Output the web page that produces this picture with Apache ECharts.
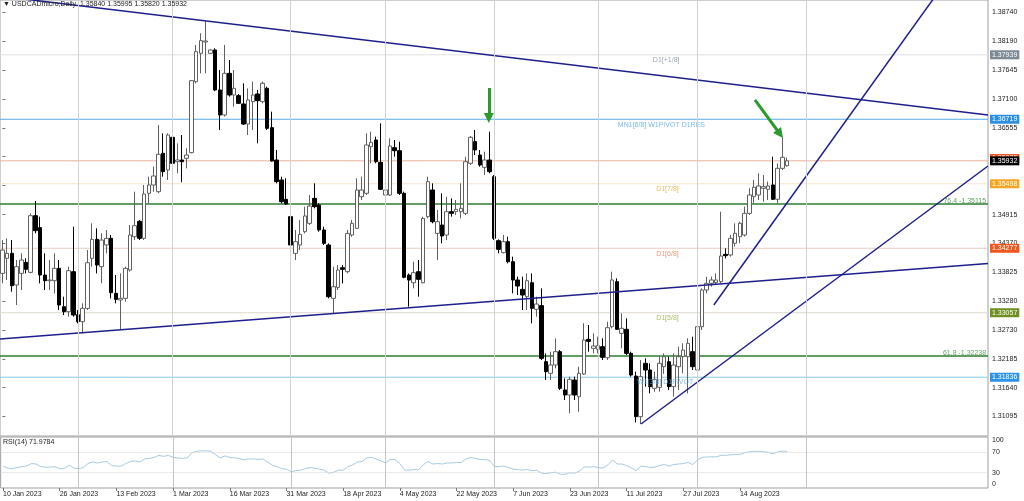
<!DOCTYPE html>
<html><head><meta charset="utf-8">
<script src="https://cdn.jsdelivr.net/npm/echarts@6/dist/echarts.min.js"></script>
<style>html,body{margin:0;padding:0;background:#fff}#c{width:1024px;height:501px}</style>
</head><body><div id="c"></div>
<script>
// ---------------- data ----------------
const symbolName = 'USDCADmicro,Daily';
const firstDay = '2023-01-10';
const slotCount = 209;                       // bars + empty future slots on the time axis
const extraSundays = ['2023-03-12', '2023-03-19'];
const dateTickLabels = ['10 Jan 2023','26 Jan 2023','13 Feb 2023','1 Mar 2023','16 Mar 2023','31 Mar 2023','18 Apr 2023','4 May 2023','22 May 2023','7 Jun 2023','23 Jun 2023','11 Jul 2023','27 Jul 2023','14 Aug 2023'];
const separatorDates = ['1 Feb 2023','1 Mar 2023','3 Apr 2023','1 May 2023','1 Jun 2023','3 Jul 2023','1 Aug 2023','1 Sep 2023'];

const opens = [1.33802,1.34086,1.34181,1.33582,1.33802,1.34011,1.33821,1.34894,1.34667,1.33771,
1.33664,1.33664,1.33897,1.33171,1.33077,1.33834,1.33020,1.32888,1.33140,1.34086,
1.34446,1.33929,1.34339,1.34465,1.33424,1.33298,1.33329,1.33866,1.34496,1.34787,
1.34465,1.35317,1.35475,1.35348,1.36074,1.35759,1.36377,1.35916,1.35948,1.35979,
1.36087,1.37431,1.37967,1.38182,1.37967,1.38030,1.37273,1.36800,1.37588,1.37178,
1.37166,1.37008,1.36629,1.37052,1.37197,1.37052,1.37304,1.36560,1.35948,1.35569,
1.35203,1.34875,1.34181,1.34339,1.34591,1.34749,1.35222,1.35096,1.34623,1.34339,
1.33329,1.33537,1.33909,1.33834,1.34528,1.34654,1.35253,1.35317,1.36200,1.36326,
1.35903,1.35285,1.35285,1.36181,1.36124,1.35317,1.33771,1.33625,1.33834,1.33625,
1.34875,1.35380,1.34559,1.34717,1.34528,1.34970,1.34970,1.34970,1.34938,1.35885,
1.36295,1.36042,1.35809,1.35948,1.35632,1.34421,1.34193,1.34402,1.34023,1.33676,
1.33499,1.33361,1.33625,1.33122,1.33191,1.32131,1.31910,1.32068,1.32320,1.31595,
1.31500,1.31784,1.31468,1.31897,1.32553,1.32383,1.32364,1.32415,1.32206,1.32793,
1.33645,1.32667,1.32743,1.32288,1.31859,1.31090,1.32099,1.31973,1.31626,1.31645,
1.32036,1.32131,1.31658,1.32036,1.32225,1.32225,1.32320,1.31973,1.32793,1.33487,
1.33614,1.33626,1.33645,1.34162,1.34150,1.34371,1.34497,1.34528,1.34938,1.35254,
1.35286,1.35412,1.35393,1.35475,1.35204,1.35790,1.35840];
const highs = [1.34433,1.34465,1.34433,1.34055,1.34181,1.34086,1.34938,1.35172,1.34875,1.34181,
1.34055,1.34181,1.34055,1.33361,1.33929,1.34686,1.33108,1.33235,1.34244,1.34749,
1.34654,1.34560,1.34623,1.34528,1.33771,1.33802,1.33929,1.34717,1.35348,1.34812,
1.35475,1.35632,1.35822,1.36610,1.36453,1.36453,1.36421,1.36263,1.36421,1.36169,
1.37462,1.38125,1.38346,1.38570,1.38043,1.38062,1.37651,1.38125,1.37841,1.37651,
1.37197,1.37399,1.37304,1.37431,1.37273,1.37431,1.37336,1.36863,1.36137,1.35632,
1.35601,1.34906,1.34623,1.34812,1.35064,1.35285,1.35506,1.35127,1.34686,1.34370,
1.33928,1.33960,1.33960,1.34623,1.34812,1.35601,1.35632,1.36452,1.36484,1.36389,
1.36642,1.35695,1.36358,1.36326,1.36295,1.35348,1.33802,1.34023,1.34055,1.34875,
1.35632,1.35506,1.35001,1.35317,1.35253,1.35222,1.35191,1.35506,1.36011,1.36402,
1.36516,1.36137,1.36105,1.36484,1.35664,1.34446,1.34528,1.34496,1.34118,1.33739,
1.33739,1.33802,1.33802,1.33361,1.33519,1.32288,1.32320,1.32573,1.32351,1.31815,
1.31847,1.31847,1.32036,1.32857,1.32825,1.32667,1.32604,1.32573,1.32888,1.33834,
1.33708,1.33046,1.32951,1.32320,1.31942,1.32162,1.32194,1.32099,1.31942,1.32225,
1.32288,1.32225,1.32288,1.32415,1.32478,1.32573,1.32604,1.32825,1.33519,1.33740,
1.33740,1.33803,1.34970,1.34276,1.34528,1.34749,1.34781,1.35065,1.35412,1.35570,
1.35696,1.35664,1.35538,1.36011,1.35885,1.36377,1.35995];
const lows = [1.33613,1.33676,1.33455,1.33203,1.33487,1.33802,1.33802,1.34560,1.33613,1.33487,
1.33487,1.33424,1.33108,1.33014,1.32982,1.32982,1.32856,1.32667,1.33108,1.33929,
1.33802,1.33613,1.34181,1.33329,1.33235,1.32730,1.33266,1.33834,1.34433,1.34433,
1.34433,1.35127,1.35348,1.35317,1.35632,1.35569,1.35822,1.35695,1.35525,1.35790,
1.36074,1.37399,1.37588,1.37588,1.37954,1.37250,1.36516,1.36768,1.37147,1.36957,
1.37008,1.36610,1.36421,1.36516,1.36263,1.37020,1.36516,1.35916,1.35506,1.35127,
1.35096,1.34326,1.34055,1.34244,1.34559,1.34717,1.35033,1.34591,1.34339,1.33329,
1.33045,1.33487,1.33613,1.33802,1.34496,1.34642,1.35191,1.35285,1.35885,1.35885,
1.35380,1.35266,1.35266,1.36011,1.35285,1.33708,1.33171,1.33518,1.33361,1.33613,
1.34843,1.34749,1.34055,1.34370,1.34433,1.34875,1.34906,1.34843,1.34906,1.35853,
1.36042,1.35821,1.35664,1.35695,1.34433,1.34181,1.34181,1.33991,1.33424,1.33392,
1.33108,1.33108,1.32856,1.32983,1.32162,1.31784,1.31784,1.32004,1.31595,1.31405,
1.31153,1.31405,1.31184,1.31878,1.32320,1.32288,1.32288,1.32162,1.32162,1.32762,
1.32730,1.32383,1.32257,1.31847,1.30980,1.30950,1.31658,1.31531,1.31563,1.31563,
1.31900,1.31595,1.31468,1.31595,1.31910,1.31531,1.31973,1.31847,1.32730,1.33424,
1.33551,1.33582,1.33614,1.34087,1.34118,1.34308,1.34371,1.34497,1.34907,1.35128,
1.35191,1.35159,1.35191,1.35191,1.35128,1.35759,1.35820];
const closes = [1.34244,1.34181,1.33569,1.33929,1.34055,1.33878,1.34894,1.34610,1.33771,1.33664,
1.33676,1.33897,1.33203,1.33077,1.33853,1.33014,1.32888,1.33140,1.34004,1.34446,
1.33960,1.34433,1.34465,1.33436,1.33310,1.33329,1.33897,1.34528,1.34705,1.34465,
1.35304,1.35475,1.35645,1.36055,1.35727,1.36421,1.35885,1.35948,1.35916,1.36042,
1.37450,1.37999,1.38207,1.38200,1.38030,1.37273,1.36800,1.37588,1.37178,1.37304,
1.37020,1.36629,1.37084,1.37178,1.37071,1.37399,1.36547,1.35929,1.35538,1.35159,
1.35115,1.34339,1.34402,1.34540,1.34888,1.35077,1.35064,1.34623,1.34370,1.33361,
1.33550,1.33865,1.33878,1.34559,1.34749,1.35380,1.35380,1.36232,1.36282,1.35916,
1.35392,1.35380,1.36213,1.36124,1.35317,1.33727,1.33676,1.33815,1.33689,1.34843,
1.35538,1.34780,1.34780,1.34509,1.34970,1.34938,1.35014,1.35033,1.35916,1.36377,
1.36137,1.35853,1.35948,1.35727,1.34465,1.34257,1.34402,1.34023,1.33676,1.33562,
1.33392,1.33663,1.33140,1.33222,1.32194,1.31942,1.32068,1.32320,1.31626,1.31500,
1.31796,1.31500,1.31910,1.32541,1.32515,1.32427,1.32434,1.32213,1.32774,1.33677,
1.32743,1.32762,1.32288,1.31878,1.31090,1.31847,1.31973,1.31658,1.31796,1.32099,
1.32225,1.31658,1.32068,1.32225,1.32351,1.32478,1.32036,1.32793,1.33487,1.33614,
1.33677,1.33677,1.34131,1.34137,1.34465,1.34560,1.34749,1.34938,1.35286,1.35431,
1.35456,1.35443,1.35456,1.35204,1.35790,1.35999,1.35932];
const rsi14 = [43,39,38,40,42,43,48,47,42,41, 41,42,38,38,45,39,38,40,48,51,
49,51,52,44,43,43,48,52,53,51, 57,58,60,64,62,64,60,59,58,59,
69,72,73,73,72,65,59,63,60,59, 58,55,57,57,56,57,51,45,42,38,
37,32,34,35,38,40,39,37,35,29, 31,35,35,42,45,51,52,59,60,57,
53,49,56,56,48,35,35,36,36,46, 52,47,48,47,49,49,50,50,57,60,
58,56,56,54,42,42,43,40,37,36, 35,36,34,35,29,28,30,31,27,27,
30,29,33,41,41,42,40,39,45,55, 47,47,44,40,34,43,42,40,41,44,
46,43,46,47,48,50,46,55,60,61, 61,61,64,64,65,66,66,69,71,72,
72,71,70,67,71,72,71.9784];

const priceTicks = [1.31095,1.31640,1.32185,1.32730,1.33280,1.33825,1.34370,1.34915,1.35465,1.36010,1.36555,1.37100,1.37645,1.38190,1.38740];
const rsiTicks = [0, 30, 70, 100];
const rsiLevels = [30, 70];

// horizontal levels (price)
const levelPrices = {
  d1Plus18: 1.37939, mn1: 1.36719, bidHidden: 1.35975, bid: 1.35932, d178: 1.35498,
  fib764: 1.35115, d168: 1.34277, d158: 1.33057, fib618: 1.32238, w1: 1.31836
};
// text objects: [text, bar index, price]
const levelTexts = [
  ['D1[+1/8]', 137.6, 1.37841],
  ['MN1[6/8] W1PIVOT D1RES', 130.2, 1.36610],
  ['D1[7/8]', 138.3, 1.35399],
  ['D1[6/8]', 138.3, 1.34169],
  ['D1[5/8]', 138.3, 1.32963],
  ['W1[3/8] D1PIVOT', 134.3, 1.31751]
];
const fibTexts = [
  ['76.4 -1.35115', 208.1, 1.35177],
  ['61.8 -1.32238', 208.1, 1.32295]
];
// trend lines: [[bar index, price], [bar index, price]]
const trendLines = [
  [[-0.5, 1.39049], [208.5, 1.36798]],
  [[-0.5, 1.32560], [208.5, 1.33991]],
  [[135.1, 1.30951], [208.5, 1.35834]],
  [[150.5, 1.33203], [200.0, 1.39380]]
];
const arrows = [
  [[102.9, 1.37311], [102.9, 1.36743]],
  [[159.2, 1.37084], [164.5, 1.36440]]
];

// ---------------- build ----------------
const MONTHS = ['Jan','Feb','Mar','Apr','May','Jun','Jul','Aug','Sep','Oct','Nov','Dec'];
const cats = [];
{
  let t = Date.parse(firstDay + 'T00:00:00Z');
  while (cats.length < slotCount) {
    const d = new Date(t);
    const iso = d.toISOString().slice(0, 10);
    const wd = d.getUTCDay();
    if ((wd >= 1 && wd <= 5) || extraSundays.includes(iso)) {
      cats.push(d.getUTCDate() + ' ' + MONTHS[d.getUTCMonth()] + ' ' + d.getUTCFullYear());
    }
    t += 86400000;
  }
}
const FONT = 'Liberation Sans, Arial, sans-serif';
const candleData = opens.map((o, i) => [o, closes[i], lows[i], highs[i]]);
const showDate = (idx, val) => dateTickLabels.includes(val);
const X0 = -0.5, X1 = slotCount - 0.5;

const L = levelPrices;
// [price, line colour, box colour, width]
const levelStyles = [
  [L.d1Plus18, '#e0e0e0', '#7d8994', 1],
  [L.mn1, '#55aaea', '#2c8fe0', 1],
  [L.d178, '#f6e4cc', '#f5a524', 1],
  [L.fib764, '#2e7d32', null, 1.5],
  [L.d168, '#e8cdbf', '#f2561d', 1],
  [L.d158, '#dcd8cc', '#6f8f22', 1],
  [L.fib618, '#2e7d32', null, 1.5],
  [L.w1, '#88c8f0', '#2d93e6', 1],
  [L.bidHidden, null, '#f0501e', 1],
  [L.bid, '#e8b09a', '#000000', 1]
];
const levelLineSeries = levelStyles.filter(s => s[1]).map(s => ({
  type: 'line', xAxisIndex: 2, yAxisIndex: 0, data: [[X0, s[0]], [X1, s[0]]], symbol: 'none', z: 1, silent: true,
  lineStyle: { color: s[1], width: s[3] }
}));
const boxData = levelStyles.filter(s => s[2]).map(s => ({
  yAxis: s[0],
  lineStyle: { color: 'rgba(0,0,0,0)', width: 1 },
  label: { show: true, position: 'end', distance: 2, formatter: s[0].toFixed(5),
    color: '#fff', backgroundColor: s[2], padding: [1, 2, 1, 2], fontSize: 7, fontFamily: FONT }
}));

const textColors = ['#8090a0', '#5aaae0', '#f0a840', '#e8805e', '#96ac46', '#5aaae0'];

const option = {
  animation: false,
  backgroundColor: '#ffffff',
  title: [
    { text: '\u25BC ' + symbolName + '  ' + [opens, highs, lows, closes].map(a => a[a.length - 1].toFixed(5)).join(' '),
      left: 3, top: 1, padding: 0,
      textStyle: { fontSize: 7, fontWeight: 'normal', color: '#222', fontFamily: FONT } },
    { text: 'RSI(14) ' + rsi14[rsi14.length - 1].toFixed(4),
      left: 3, top: 439, padding: 0,
      textStyle: { fontSize: 7, fontWeight: 'normal', color: '#222', fontFamily: FONT } }
  ],
  grid: [
    { left: 0, right: 36, top: 0, height: 436, show: true, borderColor: '#a0a0a0', borderWidth: 1, backgroundColor: '#fff' },
    { left: 0, right: 36, top: 437, height: 51, show: true, borderColor: '#a0a0a0', borderWidth: 1, backgroundColor: '#fff' }
  ],
  xAxis: [
    { type: 'category', gridIndex: 0, data: cats, boundaryGap: true,
      axisLine: { show: false }, axisTick: { show: false }, axisLabel: { show: false }, splitLine: { show: false } },
    { type: 'category', gridIndex: 1, data: cats, boundaryGap: true,
      axisLine: { show: false },
      axisTick: { show: true, interval: showDate, alignWithLabel: true, length: 3, lineStyle: { color: '#777' } },
      axisLabel: { show: true, interval: showDate, align: 'left', fontSize: 7, color: '#222', fontFamily: FONT, margin: 3 },
      splitLine: { show: false } },
    { type: 'value', gridIndex: 0, min: X0, max: X1, show: false }
  ],
  yAxis: [
    { type: 'value', gridIndex: 0, position: 'right', min: 1.30724, max: 1.38976,
      axisLine: { show: false },
      axisTick: { show: true, customValues: priceTicks, length: 3, lineStyle: { color: '#777' } },
      axisLabel: { show: true, customValues: priceTicks, formatter: v => v.toFixed(5), fontSize: 7, color: '#222', fontFamily: FONT, margin: 4 },
      splitLine: { show: false } },
    { type: 'value', gridIndex: 1, position: 'right', min: 0, max: 100,
      axisLine: { show: false },
      axisTick: { show: false },
      axisLabel: { show: true, customValues: rsiTicks, fontSize: 7, color: '#222', fontFamily: FONT, margin: 4,
        verticalAlignMaxLabel: 'top', verticalAlignMinLabel: 'bottom' },
      splitLine: { show: false } }
  ],
  series: [
    { type: 'line', name: 'separators', xAxisIndex: 0, yAxisIndex: 0, data: [], z: 1, silent: true,
      markLine: { symbol: 'none', silent: true, animation: false, label: { show: false },
        data: separatorDates.map(d => ({ xAxis: d, lineStyle: { color: '#d2d2d2', type: 'solid', width: 1 } })) } },
    ...levelLineSeries,
    { type: 'line', name: 'boxes', xAxisIndex: 0, yAxisIndex: 0, data: [], z: 6, silent: true,
      markLine: { symbol: 'none', silent: true, animation: false, precision: 6, data: boxData } },
    { type: 'candlestick', name: symbolName, xAxisIndex: 0, yAxisIndex: 0, data: candleData, z: 2,
      barWidth: 4,
      itemStyle: { color: '#ffffff', color0: '#000000', borderColor: '#606060', borderColor0: '#000000', borderWidth: 1 } },
    ...trendLines.map(tl => ({
      type: 'line', xAxisIndex: 2, yAxisIndex: 0, data: tl, symbol: 'none', z: 3, silent: true, clip: true,
      lineStyle: { color: '#1e1e8c', width: 1.5 }
    })),
    { type: 'scatter', xAxisIndex: 2, yAxisIndex: 0, symbolSize: 0, z: 4, silent: true,
      data: levelTexts.map((t, k) => ({ name: t[0], value: [t[1], t[2]],
        label: { show: true, position: 'right', distance: 0, formatter: t[0], color: textColors[k], fontSize: 7, fontFamily: FONT } })) },
    { type: 'scatter', xAxisIndex: 2, yAxisIndex: 0, symbolSize: 0, z: 4, silent: true,
      data: fibTexts.map(t => ({ name: t[0], value: [t[1], t[2]],
        label: { show: true, position: 'left', distance: 0, formatter: t[0], color: '#3a8a3a', fontSize: 7, fontFamily: FONT } })) },
    { type: 'line', xAxisIndex: 2, yAxisIndex: 0, data: [], z: 5, silent: true,
      markLine: { silent: true, animation: false, symbol: ['none', 'triangle'], symbolSize: 10,
        label: { show: false },
        itemStyle: { color: '#2d9a2d' },
        lineStyle: { color: '#2d9a2d', width: 3, type: 'solid' },
        data: arrows.map(a => [{ coord: a[0] }, { coord: a[1] }]) } },
    { type: 'line', name: 'RSI(14)', xAxisIndex: 1, yAxisIndex: 1, data: rsi14, symbol: 'none', z: 2, silent: true,
      lineStyle: { color: '#a8cae0', width: 1 },
      markLine: { symbol: 'none', silent: true, animation: false, label: { show: false },
        data: rsiLevels.map(v => ({ yAxis: v, lineStyle: { color: '#d6d6d6', type: 'dotted', width: 1 } }))
          .concat(separatorDates.map(d => ({ xAxis: d, lineStyle: { color: '#c4c4c4', type: 'solid', width: 1 } }))) } }
  ]
};
const chart = echarts.init(document.getElementById('c'), null, { renderer: 'canvas' });
chart.setOption(option);
</script>
</body></html>
